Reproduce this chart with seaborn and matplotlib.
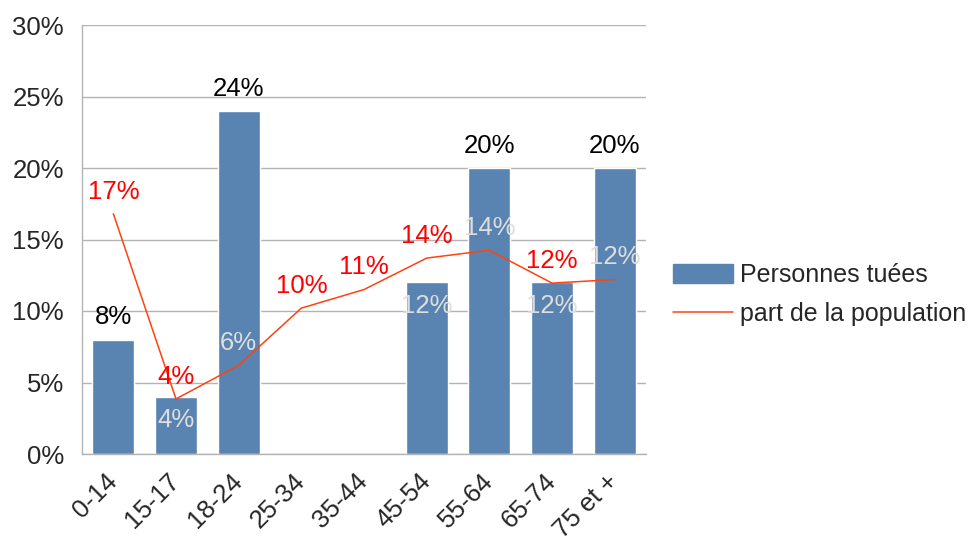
import numpy as np
import pandas as pd
import seaborn as sns
import matplotlib
matplotlib.use("Agg")
import matplotlib.pyplot as plt
from matplotlib.patches import Patch
from matplotlib.lines import Line2D

categories = ["0-14", "15-17", "18-24", "25-34", "35-44", "45-54", "55-64", "65-74", "75 et +"]
tues = [8, 4, 24, 0, 0, 12, 20, 12, 20]
population = [16.8, 3.85, 6.2, 10.2, 11.5, 13.7, 14.25, 11.95, 12.2]
tues_labels = ["8%", "4%", "24%", None, None, "12%", "20%", "12%", "20%"]
pop_labels = ["17%", "4%", "6%", "10%", "11%", "14%", "14%", "12%", "12%"]
# label placement: True = above bar top (black), False = inside bar (light)
tues_above = [True, False, True, None, None, False, True, False, True]
# line label colour: True = red, False = light (over a bar)
pop_red = [True, True, False, True, True, True, False, True, False]

BAR = "#5983b0"
LINE = "#ff420e"
LIGHT = "#dedede"
FS = 18.5

sns.set_style("white")
plt.rcParams["font.family"] = ["Liberation Sans", "DejaVu Sans"]

fig = plt.figure(figsize=(9.79, 5.38), dpi=100)
ax = fig.add_axes([82 / 979, 1 - 454 / 538, (646 - 82) / 979, (454 - 25) / 538])

df = pd.DataFrame({"cat": categories, "tues": tues})
sns.barplot(data=df, x="cat", y="tues", color=BAR, width=0.67, saturation=1, ax=ax, zorder=2)
dfl = pd.DataFrame({"x": np.arange(len(categories)), "pop": population})
sns.lineplot(data=dfl, x="x", y="pop", color=LINE, linewidth=1.1, ax=ax, zorder=3)

ax.set_xlim(-0.5, len(categories) - 0.5)
ax.set_ylim(0, 30)
ax.set_yticks(np.arange(0, 31, 5))
ax.set_yticklabels([f"{v}%" for v in range(0, 31, 5)], fontsize=FS)
ax.set_xticks(np.arange(len(categories)))
ax.set_xticklabels(categories, rotation=45, ha="right", va="center",
                   rotation_mode="anchor", fontsize=FS)
ax.tick_params(axis="x", length=0, pad=17)
ax.set_xticks(np.arange(-0.5, len(categories), 1), minor=True)
ax.tick_params(axis="x", which="minor", length=8, color="#b3b3b3", width=1)
ax.tick_params(axis="y", length=7, color="#b3b3b3", width=1, pad=6)
ax.set_xlabel("")
ax.set_ylabel("")
ax.grid(axis="y", color="#b3b3b3", linewidth=1, zorder=0)
ax.set_axisbelow(True)
for s in ["top", "right"]:
    ax.spines[s].set_visible(False)
for s in ["left", "bottom"]:
    ax.spines[s].set_color("#b3b3b3")
    ax.spines[s].set_linewidth(1)

for i, (v, lab, above) in enumerate(zip(tues, tues_labels, tues_above)):
    if lab is None:
        continue
    if above:
        ax.annotate(lab, (i, v), xytext=(0, 16), textcoords="offset points",
                    ha="center", va="center", fontsize=FS, color="black", zorder=5)
    else:
        ax.annotate(lab, (i, v), xytext=(0, -17), textcoords="offset points",
                    ha="center", va="center", fontsize=FS, color=LIGHT, zorder=5)

for i, (v, lab, red) in enumerate(zip(population, pop_labels, pop_red)):
    ax.annotate(lab, (i, v), xytext=(0, 16), textcoords="offset points",
                ha="center", va="center", fontsize=FS,
                color="#ff0000" if red else LIGHT, zorder=5)

handles = [Patch(facecolor=BAR, edgecolor=BAR),
           Line2D([], [], color=LINE, linewidth=1.1)]
fig.legend(handles, ["Personnes tuées", "part de la population"],
           loc="center left", bbox_to_anchor=(663 / 979, 1 - 295 / 538),
           frameon=False, fontsize=18, handlelength=2.4, handleheight=0.8,
           handletextpad=0.3, labelspacing=0.6, borderaxespad=0)

fig.savefig("out.png", dpi=100)
